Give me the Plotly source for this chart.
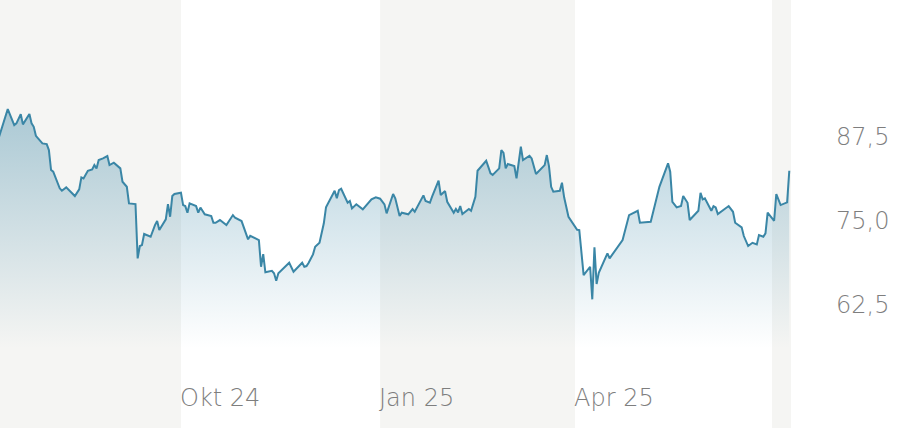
import plotly.graph_objects as go

dates = [
    "2024-07-09", "2024-07-11", "2024-07-13", "2024-07-16", "2024-07-17", "2024-07-19", "2024-07-20",
    "2024-07-23", "2024-07-24", "2024-07-25", "2024-07-26", "2024-07-27", "2024-07-29", "2024-07-31",
    "2024-08-01", "2024-08-02", "2024-08-03", "2024-08-06", "2024-08-07", "2024-08-09", "2024-08-13",
    "2024-08-15", "2024-08-16", "2024-08-17", "2024-08-19", "2024-08-21", "2024-08-22", "2024-08-23",
    "2024-08-24", "2024-08-26", "2024-08-28", "2024-08-29", "2024-08-31", "2024-09-03", "2024-09-04",
    "2024-09-06", "2024-09-07", "2024-09-10", "2024-09-11", "2024-09-12", "2024-09-13", "2024-09-14",
    "2024-09-17", "2024-09-19", "2024-09-20", "2024-09-21", "2024-09-24", "2024-09-25", "2024-09-26",
    "2024-09-27", "2024-09-28", "2024-10-01", "2024-10-02", "2024-10-03", "2024-10-04", "2024-10-05",
    "2024-10-08", "2024-10-09", "2024-10-10", "2024-10-12", "2024-10-15", "2024-10-16", "2024-10-17",
    "2024-10-19", "2024-10-22", "2024-10-25", "2024-10-26", "2024-10-29", "2024-11-01", "2024-11-02",
    "2024-11-06", "2024-11-07", "2024-11-08", "2024-11-09", "2024-11-12", "2024-11-13", "2024-11-14",
    "2024-11-15", "2024-11-20", "2024-11-22", "2024-11-26", "2024-11-27", "2024-11-28", "2024-11-29",
    "2024-12-01", "2024-12-02", "2024-12-04", "2024-12-06", "2024-12-07", "2024-12-11", "2024-12-12",
    "2024-12-13", "2024-12-14", "2024-12-17", "2024-12-18", "2024-12-19", "2024-12-21", "2024-12-24",
    "2024-12-28", "2024-12-30", "2025-01-01", "2025-01-03", "2025-01-04", "2025-01-07", "2025-01-08",
    "2025-01-10", "2025-01-11", "2025-01-14", "2025-01-16", "2025-01-17", "2025-01-21", "2025-01-22",
    "2025-01-24", "2025-01-25", "2025-01-28", "2025-01-29", "2025-01-31", "2025-02-01", "2025-02-04",
    "2025-02-05", "2025-02-06", "2025-02-07", "2025-02-08", "2025-02-11", "2025-02-12", "2025-02-14",
    "2025-02-15", "2025-02-19", "2025-02-21", "2025-02-22", "2025-02-25", "2025-02-26", "2025-02-27",
    "2025-02-28", "2025-03-01", "2025-03-04", "2025-03-05", "2025-03-07", "2025-03-08", "2025-03-11",
    "2025-03-12", "2025-03-14", "2025-03-18", "2025-03-19", "2025-03-20", "2025-03-21", "2025-03-22",
    "2025-03-25", "2025-03-26", "2025-03-27", "2025-03-29", "2025-04-02", "2025-04-03", "2025-04-05",
    "2025-04-08", "2025-04-09", "2025-04-10", "2025-04-11", "2025-04-12", "2025-04-16", "2025-04-17",
    "2025-04-23", "2025-04-26", "2025-04-30", "2025-05-01", "2025-05-06", "2025-05-10", "2025-05-14",
    "2025-05-15", "2025-05-16", "2025-05-18", "2025-05-20", "2025-05-21", "2025-05-23", "2025-05-24",
    "2025-05-28", "2025-05-29", "2025-05-30", "2025-05-31", "2025-06-03", "2025-06-04", "2025-06-05",
    "2025-06-06", "2025-06-11", "2025-06-13", "2025-06-14", "2025-06-17", "2025-06-18", "2025-06-20",
    "2025-06-22", "2025-06-24", "2025-06-25", "2025-06-27", "2025-06-28", "2025-06-29", "2025-07-02",
    "2025-07-03", "2025-07-05", "2025-07-08", "2025-07-09",
]

prices = [
    87.54, 89.78, 91.67, 89.29, 89.54, 90.92, 89.39,
    90.92, 89.54, 89.03, 87.69, 87.31, 86.56, 86.46,
    85.57, 82.59, 82.34, 79.87, 79.51, 80.01, 78.72,
    79.72, 81.50, 81.35, 82.49, 82.69, 83.33, 82.84,
    84.08, 84.33, 84.67, 83.33, 83.68, 82.84, 80.85,
    80.10, 77.63, 77.53, 69.45, 71.28, 71.43, 73.07,
    72.66, 74.40, 75.00, 73.66, 75.25, 77.53, 75.64,
    78.72, 79.02, 79.21, 77.38, 77.23, 76.24, 77.63,
    77.23, 76.24, 77.01, 76.00, 75.74, 74.75, 74.75,
    75.15, 74.40, 75.89, 75.49, 75.00, 72.28, 72.81,
    72.17, 68.20, 70.09, 67.37, 67.60, 67.22, 66.12,
    67.22, 68.79, 67.46, 68.79, 68.20, 68.30, 68.79,
    70.04, 71.18, 71.77, 74.66, 77.04, 79.51, 78.38,
    79.61, 79.81, 77.72, 77.98, 76.89, 77.49, 76.74,
    78.23, 78.53, 78.33, 77.49, 76.15, 79.02, 78.38,
    75.74, 76.24, 76.00, 76.79, 76.38, 78.82, 77.98,
    77.72, 78.62, 81.00, 78.87, 79.46, 77.87, 76.24,
    76.79, 76.29, 77.23, 76.04, 76.79, 76.53, 78.62,
    82.49, 83.97, 82.10, 81.85, 82.84, 85.57, 85.16,
    82.84, 83.48, 83.18, 81.35, 86.06, 84.08, 84.72,
    84.33, 82.00, 83.33, 84.82, 83.18, 80.10, 79.36,
    79.51, 80.70, 78.53, 75.64, 73.71, 73.66, 66.96,
    68.20, 63.35, 71.09, 65.63, 67.31, 70.19, 69.45,
    72.17, 75.89, 76.53, 74.75, 74.90, 80.10, 83.59,
    82.34, 77.87, 77.04, 77.23, 78.72, 77.72, 75.15,
    76.53, 79.21, 78.23, 78.38, 76.53, 77.23, 77.04,
    76.04, 77.23, 76.38, 74.75, 74.06, 72.77, 71.28,
    71.77, 71.53, 72.92, 72.66, 73.17, 76.24, 75.04,
    79.02, 77.38, 77.78, 82.49,
]

fill_floor = 56.1
y_tick_vals = [62.5, 75.0, 87.5]
y_tick_text = ["62,5", "75,0", "87,5"]
x_label_dates = ["2024-10-01", "2025-01-01", "2025-04-01"]
x_label_text = ["Okt 24", "Jan 25", "Apr 25"]
shaded_periods = [
    ("2024-07-01", "2024-10-01"),
    ("2025-01-01", "2025-04-01"),
    ("2025-07-01", "2025-07-09 19:00"),
]
x_range = ["2024-07-09 10:00", "2025-07-09 19:00"]
y_range = [44.2, 107.9]

LINE = "#3a86a6"
TEXT = "#7e7e7e"
BAND = "#f5f5f3"
FONT = "DejaVu Sans, sans-serif"

fig = go.Figure()

fig.add_trace(go.Scatter(
    x=dates, y=[fill_floor] * len(dates),
    mode="lines", line=dict(width=0, color="rgba(0,0,0,0)"),
    hoverinfo="skip", showlegend=False,
))
fig.add_trace(go.Scatter(
    x=dates, y=prices,
    mode="lines", line=dict(color=LINE, width=2),
    fill="tonexty",
    fillgradient=dict(
        type="vertical",
        colorscale=[[0.0, "rgba(58,134,166,0.0)"], [1.0, "rgba(58,134,166,0.40)"]],
        start=fill_floor, stop=92.0,
    ),
    showlegend=False,
))

shapes = []
for x0, x1 in shaded_periods:
    shapes.append(dict(
        type="rect", xref="x", yref="paper", x0=x0, x1=x1, y0=0, y1=1,
        fillcolor=BAND, line=dict(width=0), layer="below",
    ))

annotations = []
for d, t in zip(x_label_dates, x_label_text):
    annotations.append(dict(
        x=d, y=0.07, xref="x", yref="paper", text=t, showarrow=False,
        xanchor="left", yanchor="middle", xshift=-3,
        font=dict(family=FONT, size=24, color=TEXT, weight=300),
    ))

fig.update_layout(
    width=902, height=428,
    margin=dict(l=0, r=111, t=0, b=0),
    paper_bgcolor="white", plot_bgcolor="white",
    shapes=shapes, annotations=annotations,
    showlegend=False,
    xaxis=dict(type="date", range=x_range, showgrid=False, zeroline=False,
               showticklabels=False, showline=False, ticks=""),
    yaxis=dict(range=y_range, side="right", showgrid=False, zeroline=False,
               showline=False, ticks="", tickvals=y_tick_vals, ticktext=y_tick_text,
               ticklabelstandoff=44,
               tickfont=dict(family=FONT, size=24, color=TEXT, weight=300)),
)

fig.write_html("out.html", config={"displayModeBar": False},
               post_script="document.body.style.margin='0';")
